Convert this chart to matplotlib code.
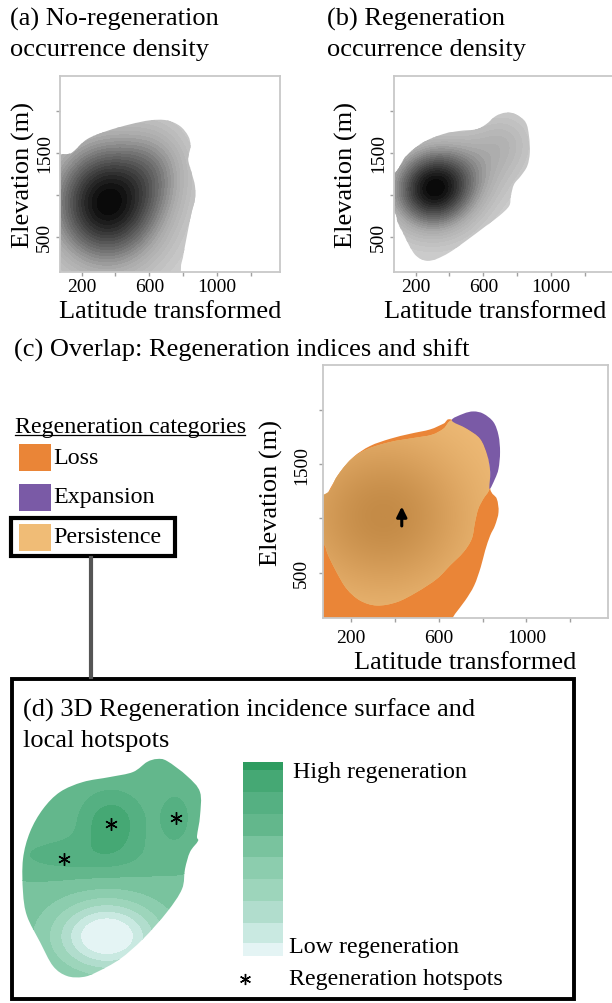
import numpy as np
import matplotlib
matplotlib.use("Agg")
import matplotlib.pyplot as plt
from matplotlib.patches import PathPatch, Rectangle
from matplotlib.path import Path
from matplotlib.lines import Line2D
from matplotlib.colors import LinearSegmentedColormap, ListedColormap, BoundaryNorm

plt.rcParams["font.family"] = ["Liberation Serif", "DejaVu Serif"]

W, H = 612, 1004

# shared axes settings (latitude transformed vs elevation)
lat_lim = (73, 1372)
elev_lim = (82, 2414)
lat_ticks = [200, 400, 600, 800, 1000, 1200]
lat_labels = ["200", "", "600", "", "1000", ""]
elev_ticks = [500, 1000, 1500, 2000]
elev_labels = ["500", "", "1500", ""]

# (a) no-regeneration occurrence range and density centres
a_outline = [(0, 1304), (144, 1503), (232, 1661), (350, 1760), (487, 1839), (605, 1887),
             (703, 1887), (781, 1819), (830, 1700), (844, 1581), (830, 1423), (850, 1265),
             (870, 1106), (870, 948), (850, 790), (830, 591), (811, 393), (791, 195),
             (742, -64), (428, -100), (0, -100)]
a_lat = [350, 650]
a_elev = [900, 1350]
a_sd_lat = [230, 150]
a_sd_elev = [520, 380]
a_weight = [1.0, 0.22]

# (b) regeneration occurrence range and density centres
b_outline = [(0, 1350), (76, 1265), (145, 1463), (243, 1622), (360, 1721), (458, 1760),
             (557, 1780), (616, 1839), (674, 1938), (733, 1978), (792, 1958), (851, 1860),
             (870, 1700), (875, 1503), (860, 1344), (822, 1225), (782, 1126), (763, 987),
             (753, 868), (694, 749), (616, 630), (498, 452), (400, 314), (321, 235),
             (262, 215), (204, 274), (164, 393), (125, 552), (95, 671), (76, 790), (0, 850)]
b_lat = [300, 500, 720]
b_elev = [1050, 1300, 1650]
b_sd_lat = [170, 200, 130]
b_sd_elev = [330, 300, 250]
b_weight = [1.0, 0.25, 0.2]

# (c) overlap categories
loss_outline = [(-50, 1170), (72, 1150), (105, 1273), (151, 1427), (211, 1565), (287, 1667),
                (379, 1734), (470, 1780), (561, 1820), (622, 1873), (660, 1910), (789, 1765),
                (827, 1550), (835, 1273), (865, 1181), (873, 1058), (857, 935), (835, 842),
                (812, 704), (792, 551), (762, 381), (721, 243), (675, 120), (652, 43),
                (620, -50), (-50, -50)]
persist_outline = [(0, 1120), (97, 1243), (135, 1381), (196, 1534), (272, 1636), (379, 1704),
                   (485, 1741), (569, 1771), (622, 1827), (660, 1903), (728, 1827), (789, 1734),
                   (822, 1580), (835, 1427), (832, 1273), (804, 1181), (781, 1089), (766, 966),
                   (751, 812), (713, 689), (652, 566), (592, 443), (500, 320), (409, 228),
                   (318, 197), (242, 243), (181, 351), (135, 504), (97, 658), (72, 766), (0, 740)]
expand_outline = [(660, 1903), (713, 1965), (759, 1986), (804, 1965), (850, 1888), (873, 1765),
                  (880, 1611), (873, 1458), (857, 1365), (832, 1273), (835, 1427), (822, 1580),
                  (789, 1734), (728, 1827)]
expand_sliver = [(55, 1235), (84, 1165), (55, 1095)]
persist_core = (347, 1024)
persist_core_sd = (280, 520)
shift_start = (432, 905)
shift_end = (432, 1135)

categories = ["Loss", "Expansion", "Persistence"]
cat_colors = ["#ea8537", "#7a5aa6", "#f0bc76"]

# (d) regeneration incidence surface (schematic units)
d_outline = [(142, 225), (152, 223), (172, 208), (185, 192), (185, 168), (182, 148), (183, 143),
             (175, 132), (170, 115), (167, 95), (152, 72), (128, 45), (105, 25), (82, 12),
             (68, 7), (52, 8), (38, 18), (25, 42), (12, 68), (8, 92), (8, 125), (15, 152),
             (28, 175), (45, 192), (68, 202), (95, 207), (118, 212), (132, 222)]
hot_u = [49, 96, 161]
hot_v = [125, 160, 166]
bump_u = [100, 96, 161, 55, 92]
bump_v = [175, 160, 166, 128, 48]
bump_h = [0.8, 2.3, 1.2, 1.3, -6.2]
bump_wu = [80, 20, 12, 55, 36]
bump_wv = [50, 20, 20, 14, 25]
d_base = 5.7
green_levels = [-100, 1, 2, 3, 4, 5, 6, 7, 8, 9, 100]
green_colors = ["#e4f4f4", "#c9e9e1", "#b1ddcd", "#9dd5bb", "#8ccdae",
                "#79c39e", "#63b78c", "#55b082", "#45a874", "#2e9c60"]
bar_edges = [0, 40, 100, 165, 230, 295, 360, 425, 490, 555, 580]


def rect(x0, y0, x1, y1):
    return [x0 / W, 1 - y1 / H, (x1 - x0) / W, (y1 - y0) / H]


def ftext(x, y, s, **kw):
    fig.text(x / W, 1 - y / H, s, **kw)


def fpt(x, y):
    return x / W, 1 - y / H


def smooth_patch(points, **kw):
    # closed Catmull-Rom outline drawn as cubic Bezier segments
    p = np.asarray(points, dtype=float)
    n = len(p)
    verts = [p[0]]
    codes = [Path.MOVETO]
    for i in range(n):
        p0, p1, p2, p3 = p[i - 1], p[i], p[(i + 1) % n], p[(i + 2) % n]
        verts += [p1 + (p2 - p0) / 6, p2 - (p3 - p1) / 6, p2]
        codes += [Path.CURVE4] * 3
    return PathPatch(Path(verts, codes), **kw)


gx, gy = np.meshgrid(np.linspace(-100, 1500, 400), np.linspace(-100, 2600, 400))


def density(lat, elev, sdx, sdy, wt):
    z = np.zeros_like(gx)
    for c, e, s, t, w in zip(lat, elev, sdx, sdy, wt):
        z += w * np.exp(-0.5 * (((gx - c) / s) ** 2 + ((gy - e) / t) ** 2))
    return z / z.max()


gray_cmap = LinearSegmentedColormap.from_list("g", ["#d3d3d3", "#a8a8a8", "#555555", "#050505"])


def style_axes(ax, tick_pad_x, tick_pad_y, xlab_x, xlab_y, ylab_x):
    ax.set_xlim(lat_lim)
    ax.set_ylim(elev_lim)
    ax.set_xticks(lat_ticks, lat_labels)
    ax.set_yticks(elev_ticks, elev_labels)
    ax.tick_params(length=3, width=1, color="#a0a0a0", labelsize=14)
    ax.tick_params(axis="x", pad=tick_pad_x)
    ax.tick_params(axis="y", pad=tick_pad_y, labelrotation=90)
    for t in ax.get_yticklabels():
        t.set_va("center")
    for sp in ax.spines.values():
        sp.set_color("#c8c8c8")
        sp.set_linewidth(1.3)
    ax.set_xlabel("Latitude transformed", fontsize=19)
    ax.set_ylabel("Elevation (m)", fontsize=19)
    ax.xaxis.set_label_coords(xlab_x, xlab_y)
    ax.yaxis.set_label_coords(ylab_x, 0.5)


def density_panel(ax, outline, z):
    patch = smooth_patch(outline, facecolor="none", edgecolor="none")
    ax.add_patch(patch)
    cs = ax.contourf(gx, gy, z, levels=np.linspace(0, 1.0001, 26), cmap=gray_cmap)
    cs.set_clip_path(patch)


fig = plt.figure(figsize=(W / 100, H / 100), dpi=100)
fig.patch.set_facecolor("white")

# titles
ftext(10, 8, "(a) No-regeneration\noccurrence density", fontsize=19, va="top", ha="left",
      linespacing=1.45)
ftext(327, 8, "(b) Regeneration\noccurrence density", fontsize=19, va="top", ha="left",
      linespacing=1.45)

# (a)
ax_a = fig.add_axes(rect(60, 77, 280, 273))
density_panel(ax_a, a_outline, density(a_lat, a_elev, a_sd_lat, a_sd_elev, a_weight))
style_axes(ax_a, 1.5, 2, 0.5, -0.143, -0.115)

# (b)
ax_b = fig.add_axes(rect(394, 77, 614, 273))
density_panel(ax_b, b_outline, density(b_lat, b_elev, b_sd_lat, b_sd_elev, b_weight))
style_axes(ax_b, 1.5, 2, 0.46, -0.143, -0.165)

# (c)
ftext(14, 350, "(c) Overlap: Regeneration indices and shift", fontsize=19, va="center", ha="left")
ax_c = fig.add_axes(rect(323, 366, 608, 619))
ax_c.add_patch(smooth_patch(loss_outline, facecolor=cat_colors[0], edgecolor="none"))
ax_c.add_patch(smooth_patch(expand_sliver, facecolor=cat_colors[1], edgecolor="none"))
p_patch = smooth_patch(persist_outline, facecolor=cat_colors[2], edgecolor="none")
ax_c.add_patch(p_patch)
core = np.exp(-0.5 * (((gx - persist_core[0]) / persist_core_sd[0]) ** 2
                      + ((gy - persist_core[1]) / persist_core_sd[1]) ** 2))
brown_cmap = LinearSegmentedColormap.from_list("p", ["#f1be7a", "#dca460", "#c48b47"])
im = ax_c.imshow(core, extent=(-100, 1500, -100, 2600), origin="lower", cmap=brown_cmap,
                 aspect="auto", interpolation="bilinear", zorder=1.5)
im.set_clip_path(p_patch)
ax_c.add_patch(smooth_patch(expand_outline, facecolor=cat_colors[1], edgecolor="none",
                            zorder=1.6))
ax_c.annotate("", xy=shift_end, xytext=shift_start, zorder=3,
              arrowprops=dict(arrowstyle="-|>", color="black", lw=2.2, mutation_scale=15))
style_axes(ax_c, 5, 6.5, 0.5, -0.131, -0.14)

# legend for (c)
ftext(15, 427, "Regeneration categories", fontsize=17.3, va="center", ha="left")
fig.add_artist(Line2D([15 / W, 245 / W], [1 - 436 / H, 1 - 436 / H], color="black", lw=0.9))
for i, (lab, col) in enumerate(zip(categories, cat_colors)):
    yc = 458 + 40 * i
    fig.add_artist(Rectangle(fpt(19, yc + 13.5), 32 / W, 27 / H, facecolor=col,
                             edgecolor="none", transform=fig.transFigure))
    ftext(53, yc, lab, fontsize=17.3, va="center", ha="left")
fig.add_artist(Rectangle(fpt(11, 557), 164 / W, 38 / H, facecolor="none", edgecolor="black",
                         lw=3, transform=fig.transFigure))
fig.add_artist(Line2D([90.7 / W, 90.7 / W], [1 - 559 / H, 1 - 678 / H], color="#555555", lw=3))

# (d) box
fig.add_artist(Rectangle(fpt(12, 1000), 562 / W, 320 / H, facecolor="none", edgecolor="black",
                         lw=2.8, transform=fig.transFigure))
ftext(23, 699, "(d) 3D Regeneration incidence surface and\nlocal hotspots", fontsize=19,
      va="top", ha="left", linespacing=1.45)

ax_d = fig.add_axes(rect(15, 755, 215, 985))
gu, gv = np.meshgrid(np.linspace(0, 200, 300), np.linspace(0, 230, 300))
field = np.full_like(gu, d_base)
for u, v, h, wu, wv in zip(bump_u, bump_v, bump_h, bump_wu, bump_wv):
    field += h * np.exp(-0.5 * (((gu - u) / wu) ** 2 + ((gv - v) / wv) ** 2))
green_cmap = ListedColormap(green_colors)
green_norm = BoundaryNorm(green_levels, green_cmap.N)
d_patch = smooth_patch(d_outline, facecolor="none", edgecolor="none")
ax_d.add_patch(d_patch)
cs_d = ax_d.contourf(gu, gv, field, levels=green_levels, cmap=green_cmap, norm=green_norm)
cs_d.set_clip_path(d_patch)
ax_d.plot(hot_u, hot_v, linestyle="none", marker=(6, 2, 0), markersize=9, color="black",
          markeredgewidth=1.0)
ax_d.set_xlim(0, 200)
ax_d.set_ylim(0, 230)
ax_d.axis("off")

# colour scale for (d)
ax_bar = fig.add_axes(rect(243, 763, 283, 957))
ax_bar.pcolormesh([0, 1], np.array(bar_edges), np.arange(10).reshape(-1, 1),
                  cmap=green_cmap, norm=BoundaryNorm(np.arange(-0.5, 10.5), 10))
ax_bar.set_xlim(0, 1)
ax_bar.set_ylim(0, bar_edges[-1])
ax_bar.axis("off")
ftext(293, 773, "High regeneration", fontsize=17.3, va="center", ha="left")
ftext(289, 947, "Low regeneration", fontsize=17.3, va="center", ha="left")
ftext(289, 980, "Regeneration hotspots", fontsize=17.3, va="center", ha="left")
fig.add_artist(Line2D([245 / W], [1 - 980 / H], marker=(6, 2, 0), markersize=8,
                      color="black", markeredgewidth=1.0, linestyle="none"))

fig.savefig("out.png", dpi=100)
